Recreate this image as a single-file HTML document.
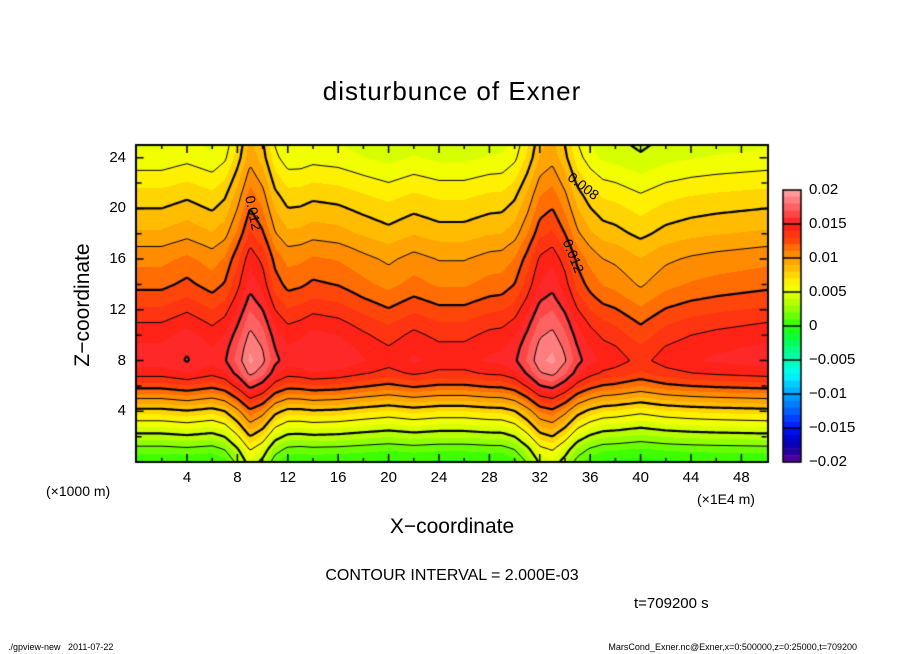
<!DOCTYPE html>
<html><head><meta charset="utf-8"><style>
body{margin:0;background:#fff;width:904px;height:654px;position:relative;overflow:hidden;font-family:"Liberation Sans",sans-serif;color:#000}
.t{position:absolute;white-space:nowrap}
</style></head><body>
<div class="t" style="left:0;width:904px;text-align:center;top:76px;font-size:26px;letter-spacing:1px">disturbunce of Exner</div>
<div class="t" style="left:83px;top:305px;font-size:21px;transform:translate(-50%,-50%) rotate(-90deg)">Z−coordinate</div>
<div class="t" style="left:0;width:904px;text-align:center;top:515px;font-size:21px">X−coordinate</div>
<div class="t" style="left:46px;top:483px;font-size:14px">(×1000 m)</div>
<div class="t" style="left:697px;top:491px;font-size:14px">(×1E4 m)</div>
<div class="t" style="left:0;width:904px;text-align:center;top:567px;font-size:16px">CONTOUR INTERVAL = 2.000E-03</div>
<div class="t" style="left:634px;top:595px;font-size:15px">t=709200 s</div>
<div class="t" style="left:8px;top:642px;font-size:9px">./gpview-new &nbsp;&nbsp;2011-07-22</div>
<div class="t" style="right:47px;top:642px;font-size:9px">MarsCond_Exner.nc@Exner,x=0:500000,z=0:25000,t=709200</div>
<canvas id="c" width="904" height="654" style="position:absolute;left:0;top:0"></canvas>
<div id="lab"></div>
<script>
// data arrays
const baseZ=[0.000,0.0015,0.0035,0.0055,0.0075,0.0100,0.0125,0.0145,0.0155,0.0152,0.0147,0.0140,0.0132,0.0124,0.0117,0.0112,0.0107,0.0100,0.0092,0.0086,0.0080,0.0074,0.0067,0.0060,0.0053,0.0049];
const peakX=[0,0,0,0,0,0,0,0.0005,0.002,0.004,0.003,0.001,0.0002,0,0,0,0,0,0,0,0,0,0,0,0,0,0,0,0,0,0.0005,0.0018,0.0035,0.004,0.0028,0.0012,0.0004,0,0,0,0,0,0,0,0,0,0,0,0,0,0];
const peakW=[1.2,1.0,0.9,1.0,1.0,1.1];
const waveX=[0,0,0.0007,-0.0002,0,0,-0.0003,0.0006,0.0003,-0.0005,-0.0012,-0.0004,-0.0010,-0.0010,-0.0004,-0.0002,0,0,-0.0006,-0.0012,-0.0022,-0.0012,-0.0007,-0.0004,-0.0002,0];
const waveW=[0.2,0.6,1,0.8,0.6,0.5];
const xTicks=[4,8,12,16,20,24,28,32,36,40,44,48];
const zTicks=[4,8,12,16,20,24];
const cbLabels=["0.02","0.015","0.01","0.005","0","-0.005","-0.01","-0.015","-0.02"];
const cbValues=[0.02,0.015,0.01,0.005,0,-0.005,-0.01,-0.015,-0.02];
const levels=[0.002,0.004,0.006,0.008,0.010,0.012,0.014,0.016,0.018];

const L=136.6,R=766.6,T=145,B=462;
const X=x=>L+x*(R-L)/50, Z=z=>B-z*(B-T)/25;
function ip(a,t){t=Math.max(0,Math.min(a.length-1,t));const i=Math.min(a.length-2,Math.floor(t)),f=t-i;return a[i]*(1-f)+a[i+1]*f;}
function field(x,z){return ip(baseZ,z)+ip(peakX,x)*ip(peakW,z/5)+ip(waveX,x/2)*ip(waveW,z/5);}
const anchors=[[0.02,[255,165,165]],[0.017,[255,85,85]],[0.015,[255,25,25]],[0.0125,[255,70,10]],[0.011,[255,128,0]],[0.009,[255,176,0]],[0.007,[255,224,0]],[0.006,[255,255,0]],[0.004,[200,255,0]],[0.002,[128,255,0]],[0,[40,255,0]],[-0.002,[0,255,70]],[-0.004,[0,255,150]],[-0.006,[0,255,210]],[-0.007,[0,255,255]],[-0.009,[0,190,255]],[-0.011,[0,140,255]],[-0.013,[0,80,255]],[-0.015,[0,20,255]],[-0.017,[0,0,190]],[-0.019,[50,0,150]],[-0.0201,[110,0,170]]];
function col(v){v=Math.floor(v/0.001)*0.001+0.0005;v=Math.max(-0.0199,Math.min(0.0199,v));
 for(let i=0;i<anchors.length-1;i++){const a=anchors[i],b=anchors[i+1];if(v<=a[0]&&v>=b[0]){const f=(a[0]-v)/(a[0]-b[0]);return a[1].map((c,k)=>Math.round(c*(1-f)+b[1][k]*f));}}return [255,255,255];}
const cv=document.getElementById('c'),ctx=cv.getContext('2d');
const x0=137,y0=145,w=630,h=317;
const img=ctx.createImageData(w,h);
for(let j=0;j<h;j++)for(let i=0;i<w;i++){const x=(x0+i+0.5-L)*50/(R-L),z=(B-(y0+j+0.5))*25/(B-T);const c=col(field(x,z));const p=(j*w+i)*4;img.data[p]=c[0];img.data[p+1]=c[1];img.data[p+2]=c[2];img.data[p+3]=255;}
ctx.putImageData(img,x0,y0);
// contours
const s=2,nx=Math.ceil(w/s)+1,ny=Math.ceil(h/s)+1,G=[];
for(let j=0;j<ny;j++){G[j]=[];for(let i=0;i<nx;i++){const px=x0+i*s,py=y0+j*s;G[j][i]=field((px-L)*50/(R-L),(B-py)*25/(B-T));}}
ctx.save();ctx.beginPath();ctx.rect(x0,y0,w,h);ctx.clip();ctx.strokeStyle='#000';
levels.forEach(lv=>{ctx.lineWidth=(Math.round(lv*1000)%4===0)?2.2:1;ctx.beginPath();
 for(let j=0;j<ny-1;j++)for(let i=0;i<nx-1;i++){const v=[G[j][i],G[j][i+1],G[j+1][i+1],G[j+1][i]];const p=[[i,j],[i+1,j],[i+1,j+1],[i,j+1]];const pts=[];
  for(let k=0;k<4;k++){const a=v[k],b=v[(k+1)%4];if((a-lv)*(b-lv)<0){const f=(lv-a)/(b-a);const A=p[k],Bp=p[(k+1)%4];pts.push([x0+(A[0]+(Bp[0]-A[0])*f)*s,y0+(A[1]+(Bp[1]-A[1])*f)*s]);}}
  for(let k=0;k+1<pts.length;k+=2){ctx.moveTo(pts[k][0],pts[k][1]);ctx.lineTo(pts[k+1][0],pts[k+1][1]);}}
 ctx.stroke();});
ctx.restore();
// frame & ticks
ctx.strokeStyle='#000';ctx.lineWidth=2;ctx.strokeRect(136,145,632,317);ctx.lineWidth=1.5;
for(let x=2;x<50;x+=2){const px=X(x),len=x%4===0?8:4;ctx.beginPath();ctx.moveTo(px,B);ctx.lineTo(px,B-len);ctx.moveTo(px,T);ctx.lineTo(px,T+len);ctx.stroke();}
for(let z=2;z<25;z+=2){const py=Z(z),len=z%4===0?7:5;ctx.beginPath();ctx.moveTo(L,py);ctx.lineTo(L+len,py);ctx.moveTo(R,py);ctx.lineTo(R-len,py);ctx.stroke();}
// colorbar
const cx=783,cw=18,ct=190,cb=462;
for(let k=0;k<40;k++){const v=0.02-(k+0.5)*0.001;const c=col(v);ctx.fillStyle=`rgb(${c})`;const y1=ct+k*(cb-ct)/40;ctx.fillRect(cx,y1,cw,(cb-ct)/40+0.5);}
ctx.lineWidth=1.5;for(let k=1;k<8;k++){const y=ct+k*(cb-ct)/8;ctx.beginPath();ctx.moveTo(cx,y);ctx.lineTo(cx+cw,y);ctx.stroke();}
ctx.strokeRect(cx,ct,cw,cb-ct);
const lab=document.getElementById('lab');
function addT(name,txt,style){const d=document.createElement('div');d.className='t';d.textContent=txt;d.style.cssText=style;


lab.appendChild(d);}
xTicks.forEach(t=>addT('x-tick-label',String(t),`left:${X(t)-20}px;width:40px;text-align:center;top:469px;font-size:15px`));
zTicks.forEach(t=>addT('y-tick-label',String(t),`left:86px;width:40px;text-align:right;top:${Z(t)-9}px;font-size:15px`));
cbLabels.forEach((t,k)=>addT('colorbar-label',t.replace('-','−'),`left:809px;top:${ct+(0.02-cbValues[k])/0.04*(cb-ct)-9}px;font-size:15px`));
addT('contour-label','0.012','left:236px;top:205px;font-size:14px;transform:rotate(78deg);transform-origin:center');
addT('contour-label','0.012','left:556px;top:248px;font-size:14px;transform:rotate(68deg);transform-origin:center');
addT('contour-label','0.008','left:566px;top:178px;font-size:14px;transform:rotate(38deg);transform-origin:center');
</script>
</body></html>
